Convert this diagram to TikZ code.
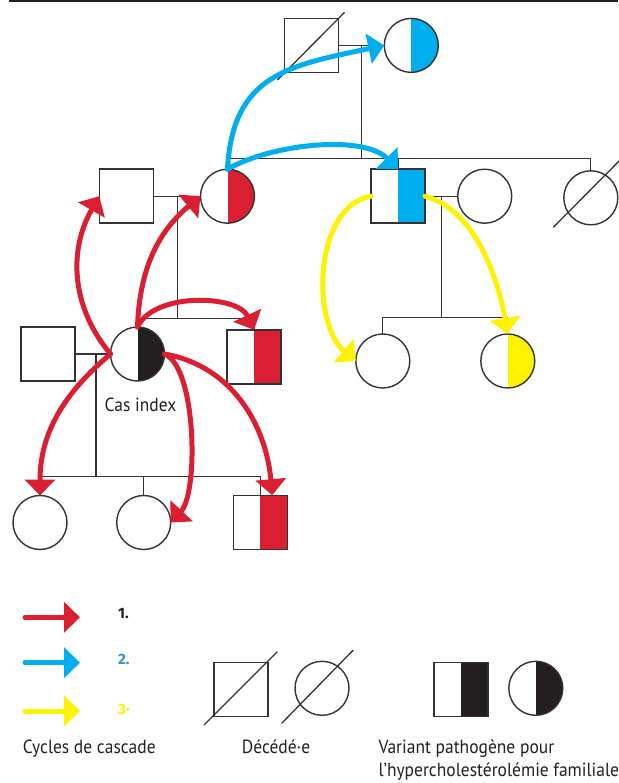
\documentclass[tikz,border=0pt]{standalone}
\usepackage{fontspec}
\setmainfont{PT Sans}[FakeStretch=0.92, BoldFont={PT Sans Bold}]
\newfontfamily\numfont{Fira Sans}
\usetikzlibrary{arrows.meta,calc}

\definecolor{cred}{RGB}{218,31,51}
\definecolor{cblue}{RGB}{0,174,239}
\definecolor{cyellow}{RGB}{255,242,0}
\definecolor{cdark}{RGB}{35,31,32}
\definecolor{cline}{RGB}{51,51,51}
\definecolor{cnum}{RGB}{40,152,194}

\begin{document}
\begin{tikzpicture}[x=1pt,y=1pt,
  person/.style={draw=cline, line width=1.4pt, fill=white, minimum size=54pt, inner sep=0pt, outer sep=0pt},
  male/.style={person, rectangle},
  female/.style={person, circle},
  carrier/.style={path picture={\fill[#1] (path picture bounding box.north) rectangle (path picture bounding box.south east);}},
  kin/.style={draw=cline, line width=1.3pt},
  cascade/.style={draw=#1, line width=5pt, line cap=round, -{Triangle[length=16pt,width=30pt]}},
  txt/.style={font=\fontsize{19}{23}\selectfont, text=cdark, inner sep=0pt},
  num/.style={font=\numfont\bfseries\fontsize{15}{18}\selectfont, inner sep=0pt},
]
\useasboundingbox (0,0) rectangle (618,-783);

% top rule
\draw[line width=2pt, cdark] (9,-0.8) -- (618,-0.8);

% ---- individuals ----
\node[male] (gf) at (311.5,-45.4) {};
\node[female, carrier=cblue] (gm) at (411.3,-45.4) {};
\node[male] (fa) at (126.4,-196.2) {};
\node[female, carrier=cred] (mo) at (227.5,-196.2) {};
\node[male, carrier=cblue] (un) at (398,-196.2) {};
\node[female] (unsp) at (484.7,-196.2) {};
\node[female] (au) at (590.8,-197.8) {};
\node[female] (co1) at (382.8,-361) {};
\node[female, carrier=cyellow] (co2) at (507.8,-361) {};
\node[male] (sp) at (48,-354) {};
\node[female, carrier=cdark] (ix) at (137.5,-354) {};
\node[male, carrier=cred] (br) at (254,-356.8) {};
\node[female] (c1) at (40,-522.5) {};
\node[female] (c2) at (143.7,-522.5) {};
\node[male, carrier=cred] (c3) at (260.2,-522.2) {};

\node[txt, anchor=base] (ixlab) at (140.5,-411.7) {Cas index};

% ---- family lines ----
\draw[kin] (gf) -- (gm);
\coordinate (gp) at (361.7,-45.4);
\coordinate (sib1) at (361.7,-158.3);
\draw[kin] (gp) -- (sib1);
\draw[kin] (mo.north) -- (mo.north |- sib1) -- (au.north |- sib1) -- (au.north);
\draw[kin] (un.north) -- (un.north |- sib1);

\draw[kin] (un) -- (unsp);
\coordinate (um) at (441.7,-196.2);
\coordinate (sib2) at (441.7,-317.7);
\draw[kin] (um) -- (sib2);
\draw[kin] (co1.north) -- (co1.north |- sib2) -- (co2.north |- sib2) -- (co2.north);

\draw[kin] (fa) -- (mo);
\coordinate (pm) at (177.3,-196.2);
\coordinate (sib3) at (177.3,-318.3);
\draw[kin] (pm) -- (sib3);
\draw[kin] (ix.north) -- (ix.north |- sib3) -- (br.north |- sib3) -- (br.north);

\draw[kin] (sp) -- (ix);
\coordinate (im) at (96,-354);
\coordinate (sib4) at (96,-476.7);
\draw[kin] (im) -- (sib4);
\draw[kin] (c1.north) -- (c1.north |- sib4) -- (c3.north |- sib4) -- (c3.north);
\draw[kin] (c2.north) -- (c2.north |- sib4);

% deceased strokes
\draw[kin] ([shift={(-34,-34.5)}]gf.center) -- ([shift={(33,33)}]gf.center);
\draw[kin] ([shift={(-37.5,-29.5)}]au.center) -- ([shift={(30,38.5)}]au.center);

% ---- cascade cycle 1 ----
\draw[cascade=cred] (ix.west) to[out=130,in=-120] (fa.west);
\draw[cascade=cred] (ix.north) to[out=88,in=-140] (mo.west);
\draw[cascade=cred] (ix.north) to[out=65,in=115,looseness=0.85] (br.north);
\draw[cascade=cred] (ix.west) to[out=220,in=90] (c1.north);
\draw[cascade=cred] (ix.east) .. controls +(32,-13) and +(28,30) .. (c2.east);
\draw[cascade=cred] (ix.east) to[out=-10,in=95] ([xshift=12pt]c3.north);

% ---- cascade cycle 2 ----
\draw[cascade=cblue] (mo.north) .. controls +(5,95) and +(-95,-20) .. (gm.west);
\draw[cascade=cblue] (mo.north) to[out=30,in=135,looseness=0.75] (un.north);

% ---- cascade cycle 3 ----
\draw[cascade=cyellow] (un.west) to[out=190,in=140,looseness=0.9] (co1.west);
\draw[cascade=cyellow] (un.east) to[out=-15,in=100,looseness=0.85] (co2.north);

% ---- legend ----
\coordinate (l1a) at (25,-617.3);  \coordinate (l1b) at (80,-617.3);
\coordinate (l2a) at (25,-662.7);  \coordinate (l2b) at (80,-662.7);
\coordinate (l3a) at (25,-711);    \coordinate (l3b) at (80,-711);
\draw[cascade=cred] (l1a) -- (l1b);
\draw[cascade=cblue] (l2a) -- (l2b);
\draw[cascade=cyellow] (l3a) -- (l3b);
\node[num, text=cdark, anchor=west] (n1) at (118,-613.3) {1.};
\node[num, text=cnum, anchor=west] (n2) at (118,-659.5) {2.};
\node[num, text=cyellow, anchor=west] (n3) at (118,-709) {3·};
\node[txt, anchor=base west] (t1) at (22.7,-753) {Cycles de cascade};

\node[male] (dm) at (240.8,-689.2) {};
\draw[kin] ([shift={(-36.8,-35.8)}]dm.center) -- ([shift={(36.5,37.5)}]dm.center);
\node[female] (df) at (322,-688.3) {};
\draw[kin] ([shift={(-40.3,-35)}]df.center) -- ([shift={(31.3,38.3)}]df.center);
\node[txt, anchor=base west] (t2) at (241.7,-753) {Décédé·e};

\node[male, carrier=cdark] (vm) at (460.8,-689.2) {};
\node[female, carrier=cdark] (vf) at (535.8,-688.3) {};
\node[txt, anchor=base west] (t3) at (378.3,-753) {Variant pathogène pour};
\node[txt, anchor=base west] (t4) at (378.3,-776.7) {l’hypercholestérolémie familiale};
\end{tikzpicture}
\end{document}
